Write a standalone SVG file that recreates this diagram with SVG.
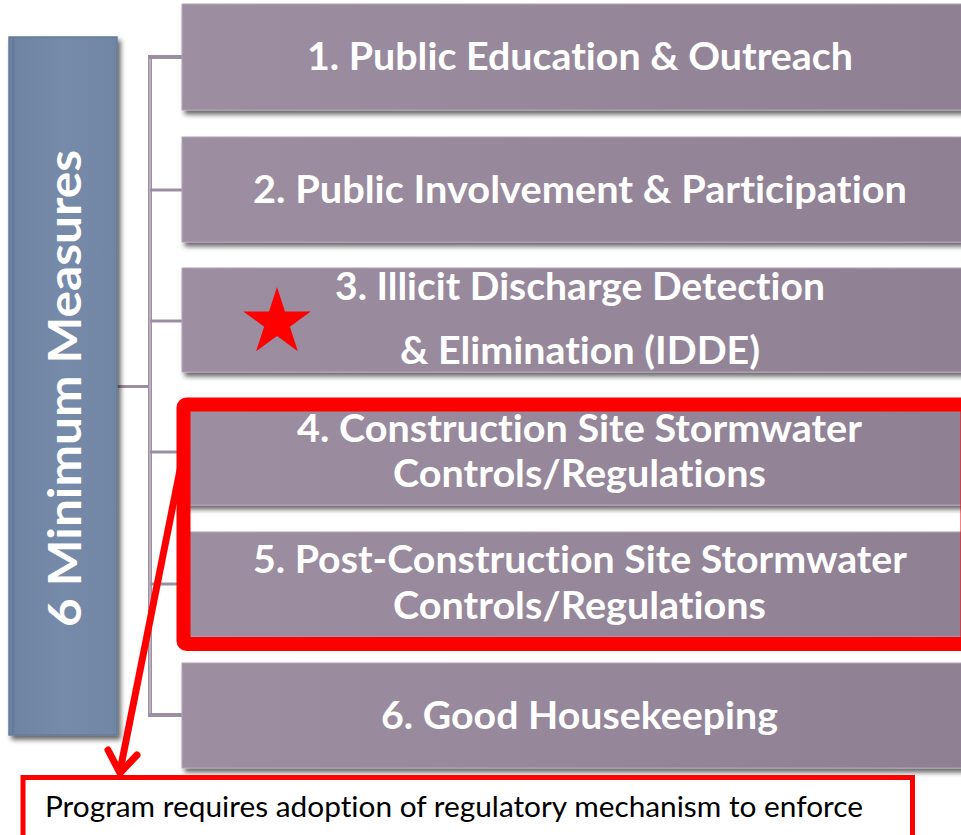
<svg xmlns="http://www.w3.org/2000/svg" width="961" height="835" viewBox="0 0 961 835">
<defs>
<linearGradient id="boxGrad" x1="0" y1="0" x2="1" y2="0">
<stop offset="0" stop-color="#9d8ea1"/>
<stop offset="1" stop-color="#8e7f93"/>
</linearGradient>
<linearGradient id="leftGrad" x1="0" y1="0" x2="1" y2="0">
<stop offset="0" stop-color="#6d82a1"/>
<stop offset="0.5" stop-color="#768aa9"/>
<stop offset="1" stop-color="#7186a5"/>
</linearGradient>
<filter id="shadow" x="-10%" y="-20%" width="130%" height="150%">
<feDropShadow dx="3" dy="4" stdDeviation="2.5" flood-color="#000" flood-opacity="0.6"/>
</filter>
</defs>
<style>
text{font-variant-ligatures:none;font-feature-settings:"liga" 0,"clig" 0;}
.box{fill:url(#boxGrad);stroke:#b1a5b4;stroke-width:1;filter:url(#shadow);}
.lbl{font-family:Lato,"Liberation Sans",sans-serif;font-weight:bold;font-size:38px;fill:#ffffff;text-anchor:middle;}
.br{stroke:#9d8fa2;stroke-width:4;fill:none;}
.brin{stroke:#d9d2db;stroke-width:1;fill:none;}
.stub{stroke:#9d8fa2;stroke-width:3;fill:none;}
.red{stroke:#ff0000;fill:none;}
</style>
<rect width="961" height="835" fill="#ffffff"/>

<g id="connectors">
<line class="stub" x1="117" y1="386.5" x2="150" y2="386.5"/>
<path class="br" d="M182 57 H150 V715 H182"/>
<path class="brin" d="M150 59 V713"/>
<line class="stub" x1="150" y1="190" x2="182" y2="190"/>
<line class="stub" x1="150" y1="321" x2="182" y2="321"/>
<line class="stub" x1="150" y1="452" x2="182" y2="452"/>
<line class="stub" x1="150" y1="584" x2="182" y2="584"/>
</g>

<g id="node-left">
<rect x="9" y="37" width="108" height="698" fill="url(#leftGrad)" stroke="#667b99" stroke-width="1.5" filter="url(#shadow)"/>
<line x1="13" y1="38" x2="13" y2="734" stroke="#62779a" stroke-width="1.5"/>
<text class="lbl" style="font-size:46px" transform="translate(81 388.5) rotate(-90)" x="0" y="0" textLength="477" lengthAdjust="spacingAndGlyphs">6 Minimum Measures</text>
</g>

<g id="node-1">
<rect class="box" x="182" y="4" width="800" height="106"/>
<text class="lbl" x="580" y="70" textLength="546" lengthAdjust="spacingAndGlyphs">1. Public Education &amp; Outreach</text>
</g>
<g id="node-2">
<rect class="box" x="182" y="137" width="800" height="105"/>
<text class="lbl" x="580" y="202.5" textLength="654" lengthAdjust="spacingAndGlyphs">2. Public Involvement &amp; Participation</text>
</g>
<g id="node-3">
<rect class="box" x="182" y="268" width="800" height="104"/>
<text class="lbl" x="580" y="300" textLength="490" lengthAdjust="spacingAndGlyphs">3. Illicit Discharge Detection</text>
<text class="lbl" x="580" y="364" textLength="360" lengthAdjust="spacingAndGlyphs">&amp; Elimination (IDDE)</text>
</g>
<g id="node-4">
<rect class="box" x="182" y="410" width="800" height="95"/>
<text class="lbl" x="579.5" y="442" textLength="565" lengthAdjust="spacingAndGlyphs">4. Construction Site Stormwater</text>
<text class="lbl" x="579.5" y="487" textLength="373" lengthAdjust="spacingAndGlyphs">Controls/Regulations</text>
</g>
<g id="node-5">
<rect class="box" x="182" y="532" width="800" height="105"/>
<text class="lbl" x="580" y="573" textLength="654" lengthAdjust="spacingAndGlyphs">5. Post-Construction Site Stormwater</text>
<text class="lbl" x="579.5" y="619" textLength="373" lengthAdjust="spacingAndGlyphs">Controls/Regulations</text>
</g>
<g id="node-6">
<rect class="box" x="182" y="663" width="800" height="105"/>
<text class="lbl" x="579.5" y="729" textLength="397" lengthAdjust="spacingAndGlyphs">6. Good Housekeeping</text>
</g>

<g id="star">
<polygon fill="#ff0000" points="277,287 284.97,311.53 310.76,311.53 289.9,326.69 297.87,351.22 277,336.06 256.13,351.22 264.1,326.69 243.24,311.53 269.03,311.53"/>
</g>

<g id="highlight">
<rect class="red" x="183.5" y="404.5" width="784" height="239.5" rx="3" stroke-width="14"/>
</g>

<g id="arrow">
<line class="red" x1="184" y1="450" x2="120" y2="771" stroke-width="7"/>
<polyline class="red" points="108,750 120,773 137,755" stroke-width="7" stroke-linejoin="miter" stroke-linecap="round"/>
</g>

<g id="note">
<rect x="23" y="777.5" width="889.5" height="70" fill="#ffffff" stroke="#ff0000" stroke-width="5"/>
<text x="45" y="817" font-family="Lato,'Liberation Sans',sans-serif" font-size="28" fill="#000000" textLength="818" lengthAdjust="spacingAndGlyphs">Program requires adoption of regulatory mechanism to enforce</text>
</g>
</svg>
